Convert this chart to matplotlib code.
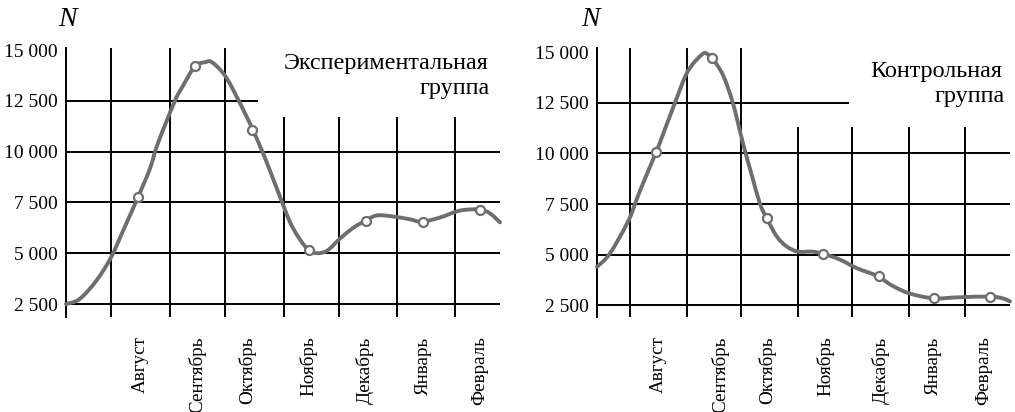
import matplotlib
matplotlib.use("Agg")
import matplotlib.pyplot as plt
from matplotlib.path import Path
from matplotlib.patches import PathPatch

plt.rcParams['font.family'] = ['Liberation Serif', 'DejaVu Serif']

# ---------------- data ----------------
months = ["Август", "Сентябрь", "Октябрь", "Ноябрь", "Декабрь", "Январь", "Февраль"]
month_pos = [0, 1, 2, 3, 4, 5, 6]
y_ticks = [2500, 5000, 7500, 10000, 12500, 15000]
y_tick_labels = ["2 500", "5 000", "7 500", "10 000", "12 500", "15 000"]

# monthly measured values (markers)
exp_values = [7750, 14200, 11050, 5150, 6580, 6550, 7150]
ctrl_values = [10050, 14700, 6800, 5050, 3950, 2840, 2930]

# smoothed curve (month position, value)
exp_curve_x = [-1.26, -1.02, -0.72, -0.47, -0.26, 0.00, 0.21, 0.35, 0.65, 0.79,
               1.00, 1.18, 1.30, 1.53, 1.77, 2.02, 2.26, 2.53, 2.72, 3.00,
               3.28, 3.54, 3.77, 3.98, 4.19, 4.47, 4.77, 4.98, 5.30, 5.65,
               6.00, 6.18, 6.35]
exp_curve_y = [2500, 2750, 3680, 4800, 6100, 7750, 9150, 10400, 12500, 13230,
               14200, 14400, 14400, 13730, 12500, 11050, 9475, 7500, 6240, 5150,
               5070, 5710, 6240, 6580, 6860, 6810, 6670, 6550, 6760, 7100,
               7150, 6950, 6520]

ctrl_curve_x = [-1.06, -0.83, -0.50, -0.34, -0.23, 0.00, 0.07, 0.34, 0.57, 0.83,
                0.93, 1.01, 1.20, 1.38, 1.56, 1.72, 1.87, 1.99, 2.17, 2.35,
                2.55, 2.80, 3.00, 3.30, 3.61, 3.97, 4.25, 4.56, 4.99, 5.40,
                6.00, 6.23, 6.36]
ctrl_curve_y = [4400, 5050, 6650, 7790, 8540, 10050, 10530, 12500, 14050, 14900,
                14900, 14700, 13890, 12500, 10530, 8940, 7500, 6800, 5900, 5400,
                5150, 5150, 5050, 4760, 4330, 3950, 3460, 3080, 2840, 2890,
                2930, 2840, 2690]

# ---------------- layout ----------------
W, H = 1015, 412
grid_x = [-0.47, 0.56, 1.53, 2.56, 3.53, 4.54, 5.56]

panels = [
    dict(rect=(66, 48, 500, 317), xlim=(-1.26, 6.35), ylim=(1863, 15100),
         cx=exp_curve_x, cy=exp_curve_y, vals=exp_values,
         label_x=[0.035, 1.05, 1.91, 3.0, 3.98, 5.0, 6.0],
         short_top=11700, h12500_end=2.10,
         title=[("Экспериментальная", 488, 69), ("группа", 490, 94)],
         n_pos=(67, 20)),
    dict(rect=(597, 48, 1010, 317), xlim=(-1.06, 6.36), ylim=(1920, 15210),
         cx=ctrl_curve_x, cy=ctrl_curve_y, vals=ctrl_values,
         label_x=[0.05, 1.15, 1.99, 3.04, 4.03, 4.99, 5.89],
         short_top=11300, h12500_end=3.47,
         title=[("Контрольная", 1002, 77), ("группа", 1005, 102)],
         n_pos=(590, 20)),
]


def smooth_path(xs, ys):
    """Catmull-Rom spline through the traced points, rendered as cubic Beziers."""
    pts = list(zip(xs, ys))
    n = len(pts)
    verts = [pts[0]]
    codes = [Path.MOVETO]
    for k in range(n - 1):
        p0 = pts[k - 1] if k > 0 else pts[k]
        p1 = pts[k]
        p2 = pts[k + 1]
        p3 = pts[k + 2] if k + 2 < n else pts[k + 1]
        c1 = (p1[0] + (p2[0] - p0[0]) / 6, p1[1] + (p2[1] - p0[1]) / 6)
        c2 = (p2[0] - (p3[0] - p1[0]) / 6, p2[1] - (p3[1] - p1[1]) / 6)
        verts += [c1, c2, p2]
        codes += [Path.CURVE4] * 3
    return Path(verts, codes)


fig = plt.figure(figsize=(W / 100, H / 100), dpi=100)
line_c = '#6e6e6e'

for p in panels:
    x0, y0, x1, y1 = p['rect']
    ax = fig.add_axes([x0 / W, 1 - y1 / H, (x1 - x0) / W, (y1 - y0) / H])
    ax.set_xlim(*p['xlim'])
    ax.set_ylim(*p['ylim'])
    for s in ['top', 'right', 'bottom']:
        ax.spines[s].set_visible(False)
    ax.spines['left'].set_linewidth(1.4)
    ax.spines['left'].set_color('black')

    ymin = p['ylim'][0]
    ymax = p['ylim'][1]
    for k, gx in enumerate(grid_x):
        top = ymax if k < 3 else p['short_top']
        ax.vlines(gx, ymin, top, colors='black', linewidth=1.4, zorder=1)
    for yv in y_ticks[:-1]:
        xe = p['h12500_end'] if yv == 12500 else p['xlim'][1]
        ax.hlines(yv, p['xlim'][0], xe, colors='black', linewidth=1.4, zorder=1)

    patch = PathPatch(smooth_path(p['cx'], p['cy']), facecolor='none',
                      edgecolor=line_c, linewidth=2.8, capstyle='round',
                      joinstyle='round', zorder=3, clip_on=False)
    ax.add_patch(patch)
    ax.plot(month_pos, p['vals'], linestyle='none', marker='o', markersize=6.5,
            markerfacecolor='white', markeredgecolor=line_c, markeredgewidth=1.6,
            zorder=4, clip_on=False)

    ax.set_yticks(y_ticks)
    ax.set_yticklabels(y_tick_labels, fontsize=14)
    ax.set_xticks(p['label_x'])
    ax.set_xticklabels(months, rotation=90, fontsize=13.8, va='top', ha='center')
    ax.tick_params(axis='y', length=0, pad=6)
    ax.tick_params(axis='x', length=0, pad=14)

    for txt, tx, ty in p['title']:
        fig.text(tx / W, 1 - ty / H, txt, ha='right', va='baseline', fontsize=17.4)
    nx, ny = p['n_pos']
    fig.text(nx / W, 1 - ny / H, "N", ha='center', va='center', fontsize=20,
             style='italic')

fig.savefig("out.png", dpi=100)
